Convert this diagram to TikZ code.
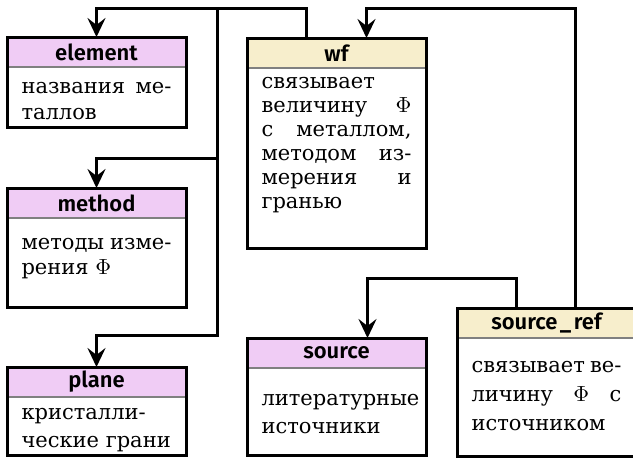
\documentclass[tikz,border=0pt]{standalone}
\usepackage{fontspec}
\setsansfont{Fira Sans}[BoldFont={Fira Sans SemiBold}]
\newfontfamily\bodyfont{DejaVu Serif}
\usetikzlibrary{arrows.meta,positioning}
\definecolor{entpink}{HTML}{F0CCF5}
\definecolor{entyellow}{HTML}{F7EECC}
\definecolor{sepgray}{HTML}{808080}

\begin{document}
\begin{tikzpicture}[x=0.5pt,y=-0.5pt,
  % coloured title strip of a table
  head/.style={rectangle, anchor=north west, draw=sepgray, line width=0.6pt,
    minimum width=89.5pt, minimum height=15pt, inner sep=0pt, outer sep=0pt,
    font=\sffamily\bfseries\fontsize{11}{13}\selectfont},
  tablehead/.style={head, fill=entpink},
  linkhead/.style={head, fill=entyellow},
  % description under the title
  body/.style={rectangle, anchor=north, text width=75pt, inner xsep=7.25pt,
    inner ysep=0pt, outer sep=0pt, align=justify,
    font=\bodyfont\fontsize{10.5}{14}\selectfont},
  frame/.style={draw=black, line width=1.5pt},
  flow/.style={draw=black, line width=1.5pt,
    -{Stealth[length=9.5pt,width=9pt,inset=3.5pt]}},
]
\useasboundingbox (0,0) rectangle (633,457);
\clip (0,0) rectangle (633,457);

% tables
\node[tablehead] (element) at (7,37) {element};
\node[body, font=\bodyfont\fontsize{10.5}{13}\selectfont]
  (element-b) at ([yshift=-4pt]element.south)
  {\strut названия ме-\linebreak таллов};
\coordinate (element-end) at ([yshift=-30pt]element.south east);
\draw[frame] (element.north west) rectangle (element-end);

\node[tablehead] (method) at (7,188) {method};
\node[body, font=\bodyfont\fontsize{10.5}{12.5}\selectfont]
  (method-b) at ([yshift=-7pt]method.south)
  {\strut методы изме-\linebreak рения $\Phi$};
\coordinate (method-end) at ([yshift=-44.5pt]method.south east);
\draw[frame] (method.north west) rectangle (method-end);

\node[tablehead] (plane) at (7,367) {plane};
\node[body] (plane-b) at ([yshift=-1.5pt]plane.south)
  {\strut кристалли-\linebreak ческие грани};
\coordinate (plane-end) at ([yshift=-29pt]plane.south east);
\draw[frame] (plane.north west) rectangle (plane-end);

\node[tablehead] (source) at (247,338) {source};
\node[body] (source-b) at ([yshift=-9pt]source.south)
  {\strut литературные\linebreak источники};
\coordinate (source-end) at ([yshift=-43.5pt]source.south east);
\draw[frame] (source.north west) rectangle (source-end);

% link tables
\node[linkhead] (wf) at (247,38) {wf};
\node[body, font=\bodyfont\fontsize{10.5}{12}\selectfont]
  (wf-b) at ([yshift=-2pt]wf.south)
  {\strut связывает\linebreak величину $\Phi$\linebreak с металлом,\linebreak
   методом из-\linebreak мерения и\linebreak гранью};
\coordinate (wf-end) at ([yshift=-90pt]wf.south east);
\draw[frame] (wf.north west) rectangle (wf-end);

\node[linkhead] (sref) at (457,308) {source\kern1.2pt\_\kern1.2pt ref};
\node[body, font=\bodyfont\fontsize{10.5}{14.5}\selectfont]
  (sref-b) at ([yshift=-7pt]sref.south)
  {\strut связывает ве-\linebreak личину $\Phi$ с\linebreak источником};
\coordinate (sref-end) at ([yshift=-59pt]sref.south east);
\draw[frame] (sref.north west) rectangle (sref-end);

% connectors
\coordinate (toprow) at (217,8);
\coordinate (methodrow) at (217,158);
\coordinate (planerow) at (217,335);
\coordinate (srcrow) at (0,278);
\coordinate (wfout) at ([xshift=-15pt]wf.north);
\coordinate (wfin) at ([xshift=15pt]wf.north);
\coordinate (srcin) at ([xshift=15.5pt]source.north);
\coordinate (srefleft) at ([xshift=-15pt]sref.north);
\coordinate (srefright) at ([xshift=14.5pt]sref.north);

\draw[flow] (wfout) |- (toprow -| element.north) -- (element.north);
\draw[flow] (toprow) -- (planerow) -| (plane.north);
\draw[flow] (methodrow) -| (method.north);
\draw[flow] (srefright) |- (wfin |- toprow) -- (wfin);
\draw[flow] (srefleft) |- (srcin |- srcrow) -- (srcin);
\end{tikzpicture}
\end{document}
